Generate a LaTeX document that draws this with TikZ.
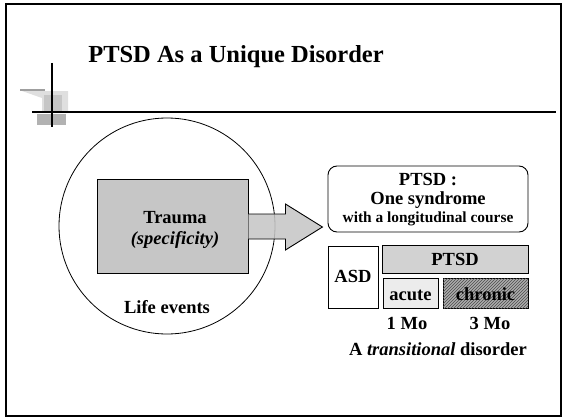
\documentclass[tikz,border=0pt]{standalone}
\usepackage{fontspec}
\setmainfont{Liberation Serif}
\usetikzlibrary{patterns,calc}
\tikzset{
  box/.style={draw, line width=0.9pt, inner sep=0pt},
  txt/.style={font=\fontsize{18.5}{22}\selectfont\bfseries, inner sep=0pt, anchor=base},
  smalltxt/.style={font=\fontsize{15.4}{18}\selectfont\bfseries, inner sep=0pt, anchor=base},
  titletxt/.style={font=\fontsize{24.5}{28}\selectfont\bfseries, inner sep=0pt, anchor=base},
  rule/.style={line width=1.2pt},
}
\begin{document}
\begin{tikzpicture}[x=1pt,y=-1pt]
\useasboundingbox (0,0) rectangle (565,420);
% frame
\draw[line width=1.6pt] (6,4) rectangle (561,416);
% title
\node[titletxt] (title) at (236,63) {PTSD As a Unique Disorder};
% decoration
\fill[gray!75] (20,88.5) rectangle (45,90.5);
\fill[gray!25] (22,91) -- (68,91) -- (68,111) -- (42,111) -- (42,98) -- cycle;
\fill[gray!45] (44,95) rectangle (62,111);
\fill[gray!60] (37,114) rectangle (66,125);
\coordinate (vt) at (52,63);
\coordinate (vb) at (52,127);
\draw[rule] (vt) -- (vb);
\coordinate (hl) at (32,112);
\coordinate (hr) at (556,112);
\draw[rule] (hl) -- (hr);
% life events circle
\node[draw, line width=0.8pt, circle, minimum size=216pt, inner sep=0pt] (life) at (167,226) {};
% trauma box
\node[box, fill=gray!45, minimum width=151pt, minimum height=94pt] (trauma) at (172.5,226) {};
\node[txt] (traumatxt) at (175,223) {Trauma};
\node[txt] (spectxt) at (175,244) {\textit{(specificity)}};
% arrow
\draw[line width=0.9pt, fill=gray!45, fill opacity=0.88, line join=miter]
  ($(trauma.east)+(0,-12)$) -- ++(37,0) -- ++(0,-10) -- ++(37,23) -- ++(-37,23)
  -- ++(0,-11) -- ++(-37,0);
\node[txt] (lifetxt) at (167,313) {Life events};
% PTSD box
\node[box, rounded corners=9pt, minimum width=200pt, minimum height=66pt] (ptsdbox) at (428,199) {};
\node[txt] (l1) at (428,185) {PTSD :};
\node[txt] (l2) at (428,204) {One syndrome};
\node[smalltxt] (l3) at (428,222) {with a longitudinal course};
% ASD and phases
\node[box, minimum width=50pt, minimum height=62pt] (asd) at (353,277) {};
\node[txt] (asdtxt) at (353,282) {ASD};
\node[box, fill=gray!35, minimum width=146pt, minimum height=28pt] (ptsdbar) at (455,259) {};
\node[txt] (ptsdbartxt) at (455,265) {PTSD};
\node[box, fill=gray!15, minimum width=55pt, minimum height=30pt] (acute) at (410.5,293) {};
\node[txt] (acutetxt) at (410.5,300) {acute};
\node[box, fill=gray!65, postaction={pattern=north east lines, pattern color=gray!60!black}, minimum width=85pt, minimum height=30pt] (chronic) at (485.5,293) {};
\node[txt] (chronictxt) at (485.5,300) {chronic};
\node[txt] (mo1) at (407,329) {1 Mo};
\node[txt] (mo3) at (490,329) {3 Mo};
\node[txt] (trans) at (438,355) {A \textit{transitional} disorder};
\end{tikzpicture}
\end{document}
